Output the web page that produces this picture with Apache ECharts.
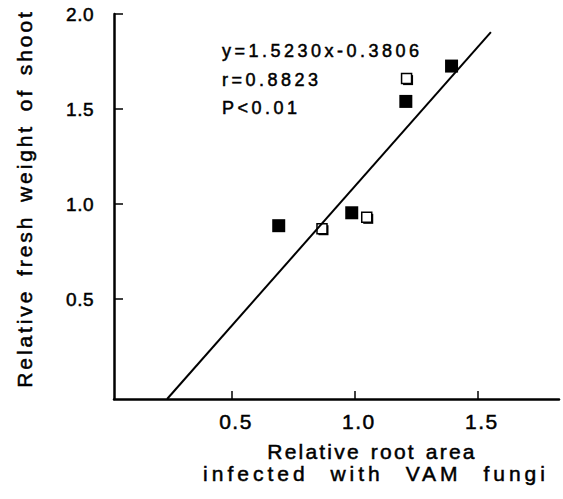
<!DOCTYPE html>
<html>
<head>
<meta charset="utf-8">
<script src="https://cdn.jsdelivr.net/npm/echarts@6/dist/echarts.min.js"></script>
<style>
  html, body { margin: 0; padding: 0; background: #fff; }
  #main { width: 563px; height: 499px; }
  /* the scanned figure has wide letter tracking; font strings tell the texts apart */
  #main svg text { letter-spacing: 3.5px; word-spacing: 3px; }
  #main svg text[style*="Arial"] { letter-spacing: 1.5px; word-spacing: 0; }
  #main svg text[style*="Verdana"] { letter-spacing: 0.5px; word-spacing: 0; }
  #main svg text[style*="Arimo"] { letter-spacing: 2.9px; word-spacing: 4px; }
  #main svg text[style*="Helvetica"] { letter-spacing: 2.2px; word-spacing: 2px; }
  #main svg text[style*="sans-serif"] { letter-spacing: 4px; word-spacing: 12px; }
</style>
</head>
<body>
<div id="main"></div>
<script>
// values
var filledPts = [[0.69, 0.886], [0.987, 0.954], [1.207, 1.54], [1.393, 1.726]];
var openPts = [[0.866, 0.87], [1.048, 0.93], [1.21, 1.66]];
var fitLine = [[0.236, -0.026], [1.553, 1.905]];
var xTicks = [0.5, 1.0, 1.5];
var yTicks = [0.5, 1.0, 1.5, 2.0];
var statsText = ['y=1.5230x-0.3806', 'r=0.8823', 'P<0.01'];
var xName = ['Relative root area', 'infected with VAM fungi'];
var yName = 'Relative fresh weight of shoot';

var myChart = echarts.init(document.getElementById('main'), null, { renderer: 'svg' });

// scanned print looks a bit heavy, so text gets a thin outline
var ink = { fill: '#000', stroke: '#000', lineWidth: 0.5 };
function txt(extra) { return Object.assign({}, ink, extra); }

var option = {
  animation: false,
  backgroundColor: '#fff',
  grid: { left: 114, right: 4, top: 14, bottom: 100 },
  xAxis: {
    type: 'value',
    min: 0.02,
    max: 1.83,
    splitLine: { show: false },
    axisLine: { onZero: false, lineStyle: { color: '#000', width: 2.5 } },
    axisTick: { inside: true, length: 8, customValues: xTicks, lineStyle: { color: '#000', width: 1.5 } },
    axisLabel: {
      customValues: xTicks,
      formatter: function (v) { return v.toFixed(1); },
      color: '#000', fontSize: 21, fontFamily: "'Liberation Sans', Arial", margin: 12,
      textBorderColor: '#000', textBorderWidth: 0.5,
      padding: [0, 0, 0, 8]
    }
  },
  yAxis: {
    type: 'value',
    min: -0.026,
    max: 2.0,
    splitLine: { show: false },
    axisLine: { onZero: false, lineStyle: { color: '#000', width: 2.5 } },
    axisTick: { inside: true, length: 9, customValues: yTicks, lineStyle: { color: '#000', width: 1.5 } },
    axisLabel: {
      customValues: yTicks,
      formatter: function (v) { return v.toFixed(1); },
      color: '#000', fontSize: 19, fontFamily: "'Liberation Sans', Verdana", margin: 20,
      textBorderColor: '#000', textBorderWidth: 0.5
    }
  },
  graphic: [
    {
      type: 'text', x: 222, y: 37,
      style: txt({ text: statsText.join('\n'), font: "18px 'Liberation Sans'", lineHeight: 28.5 })
    },
    {
      type: 'text', x: 24, y: 198.5, rotation: Math.PI / 2,
      style: txt({ text: yName, font: "21px 'Liberation Sans', Arimo", align: 'center', verticalAlign: 'middle' })
    },
    {
      type: 'text', x: 372, y: 451,
      style: txt({ text: xName[0], font: "21px 'Liberation Sans', Helvetica", align: 'center', verticalAlign: 'middle' })
    },
    {
      type: 'text', x: 376, y: 473,
      style: txt({ text: xName[1], font: "21px 'Liberation Sans', sans-serif", align: 'center', verticalAlign: 'middle' })
    }
  ],
  series: [
    {
      type: 'line', data: fitLine, symbol: 'none', silent: true,
      lineStyle: { color: '#000', width: 2 }
    },
    {
      type: 'scatter', data: filledPts, symbol: 'rect', symbolSize: 13,
      itemStyle: { color: '#000', opacity: 1 }
    },
    {
      // dark offset edge behind the open squares
      type: 'scatter', data: openPts, symbol: 'rect', symbolSize: 10, symbolOffset: [1.5, 1.5],
      itemStyle: { color: '#000', opacity: 1 }
    },
    {
      type: 'scatter', data: openPts, symbol: 'rect', symbolSize: 10,
      itemStyle: { color: '#fff', borderColor: '#000', borderWidth: 1.5, opacity: 1 }
    }
  ]
};

myChart.setOption(option);
</script>
</body>
</html>
